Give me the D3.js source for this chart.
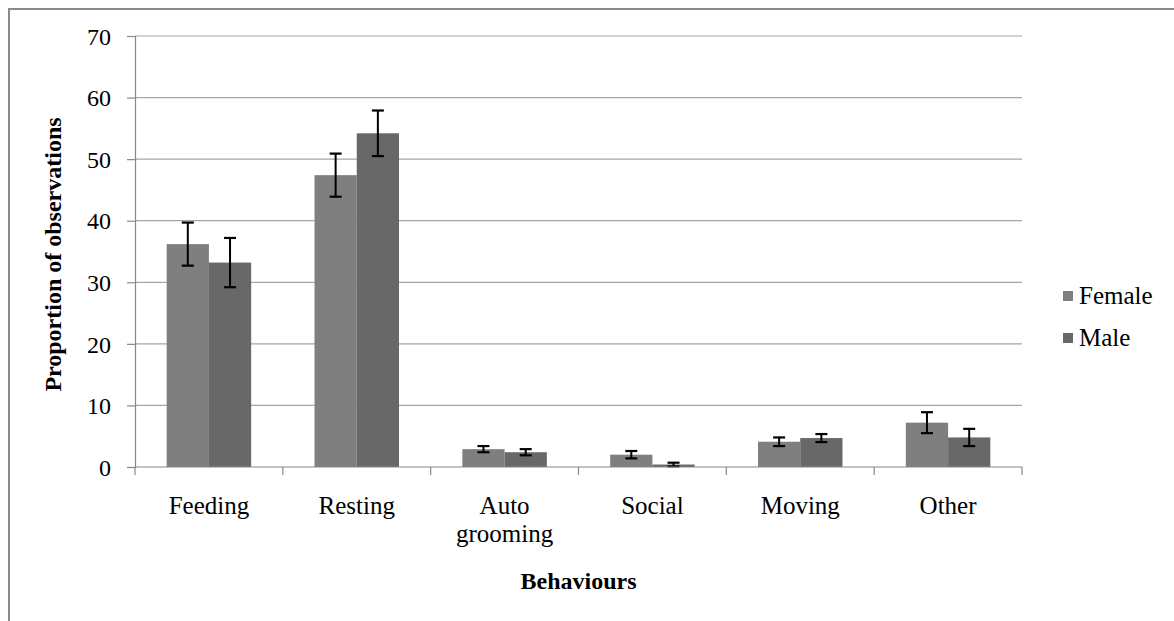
<!DOCTYPE html>
<html>
<head>
<meta charset="utf-8">
<script src="https://cdn.jsdelivr.net/npm/d3@7"></script>
<style>
  html, body { margin: 0; padding: 0; background: #fff; }
  svg { display: block; }
</style>
</head>
<body>
<svg id="chart" width="1174" height="621"></svg>
<script>
// Behaviour categories (second line of a label after "\n")
const categories = ["Feeding", "Resting", "Auto\ngrooming", "Social", "Moving", "Other"];
const seriesNames = ["Female", "Male"];
const femaleValues = [36.2, 47.4, 2.9, 2.0, 4.1, 7.2];
const maleValues   = [33.2, 54.2, 2.4, 0.4, 4.7, 4.8];
const femaleErrors = [3.5, 3.5, 0.5, 0.6, 0.7, 1.7];
const maleErrors   = [4.0, 3.7, 0.5, 0.3, 0.65, 1.4];
const yTicks = [0, 10, 20, 30, 40, 50, 60, 70];

const colors = { Female: "#7f7f7f", Male: "#686868" };
const FONT = "Liberation Serif";

const svg = d3.select("#chart");
const plot = { left: 135, right: 1022, top: 36, bottom: 467 };

// Outer chart frame
svg.append("rect")
  .attr("x", 9).attr("y", 9)
  .attr("width", 1200).attr("height", 700)
  .attr("fill", "none").attr("stroke", "#8a8a8a").attr("stroke-width", 2);

const x = d3.scaleBand().domain(categories).range([plot.left, plot.right]).paddingInner(0).paddingOuter(0);
const y = d3.scaleLinear().domain([0, 70]).range([plot.bottom, plot.top]);

// Bars take 4/7 of each band (gap of 150% of a bar width)
const groupWidth = x.bandwidth() * 2 / 3.5;
const xs = d3.scaleBand().domain(seriesNames).range([0, groupWidth]).padding(0);

// Horizontal gridlines
svg.append("g").selectAll("line")
  .data(yTicks.filter(t => t > 0))
  .join("line")
  .attr("x1", plot.left).attr("x2", plot.right)
  .attr("y1", d => y(d)).attr("y2", d => y(d))
  .attr("stroke", "#a6a6a6").attr("stroke-width", 1.2);

// Y axis
const yAxis = svg.append("g")
  .attr("transform", `translate(${plot.left},0)`)
  .call(d3.axisLeft(y).tickValues(yTicks).tickSize(8).tickPadding(16).tickFormat(d3.format("d")))
  .attr("font-family", FONT).attr("font-size", 24);
yAxis.select(".domain").attr("stroke", "#888").attr("stroke-width", 1.2);
yAxis.selectAll(".tick line").attr("stroke", "#888").attr("stroke-width", 1.2);
yAxis.selectAll(".tick text").attr("fill", "#000").attr("dy", "0.34em");

// Bars
const rows = categories.map((c, i) => ({
  cat: c,
  items: [
    { s: "Female", v: femaleValues[i], e: femaleErrors[i] },
    { s: "Male", v: maleValues[i], e: maleErrors[i] }
  ]
}));

const groups = svg.append("g").selectAll("g")
  .data(rows)
  .join("g")
  .attr("transform", d => `translate(${x(d.cat) + (x.bandwidth() - groupWidth) / 2},0)`);

groups.selectAll("rect")
  .data(d => d.items)
  .join("rect")
  .attr("x", d => xs(d.s))
  .attr("y", d => y(d.v))
  .attr("width", xs.bandwidth())
  .attr("height", d => y(0) - y(d.v))
  .attr("fill", d => colors[d.s]);

// Error bars
const eb = groups.selectAll("g.err")
  .data(d => d.items)
  .join("g").attr("class", "err")
  .attr("transform", d => `translate(${xs(d.s) + xs.bandwidth() / 2},0)`);
eb.append("line")
  .attr("x1", 0).attr("x2", 0)
  .attr("y1", d => y(d.v + d.e)).attr("y2", d => y(Math.max(0, d.v - d.e)))
  .attr("stroke", "#000").attr("stroke-width", 2);
eb.append("line")
  .attr("x1", -6).attr("x2", 6)
  .attr("y1", d => y(d.v + d.e)).attr("y2", d => y(d.v + d.e))
  .attr("stroke", "#000").attr("stroke-width", 2.2);
eb.append("line")
  .attr("x1", -6).attr("x2", 6)
  .attr("y1", d => y(Math.max(0, d.v - d.e))).attr("y2", d => y(Math.max(0, d.v - d.e)))
  .attr("stroke", "#000").attr("stroke-width", 2.2);

// X axis with ticks between categories
const xAxisG = svg.append("g");
xAxisG.append("line")
  .attr("x1", plot.left).attr("x2", plot.right)
  .attr("y1", plot.bottom).attr("y2", plot.bottom)
  .attr("stroke", "#888").attr("stroke-width", 1.2);
const boundaries = categories.map(c => x(c)).concat([plot.right]);
xAxisG.selectAll("line.tick")
  .data(boundaries)
  .join("line").attr("class", "tick")
  .attr("x1", d => d).attr("x2", d => d)
  .attr("y1", plot.bottom).attr("y2", plot.bottom + 8)
  .attr("stroke", "#888").attr("stroke-width", 1.2);

const labels = xAxisG.selectAll("text.cat")
  .data(categories)
  .join("text").attr("class", "cat")
  .attr("text-anchor", "middle")
  .attr("font-family", FONT).attr("font-size", 25).attr("fill", "#000")
  .attr("x", d => x(d) + x.bandwidth() / 2)
  .attr("y", 514);
labels.each(function(d) {
  const parts = d.split("\n");
  d3.select(this).selectAll("tspan")
    .data(parts)
    .join("tspan")
    .attr("x", x(d) + x.bandwidth() / 2)
    .attr("dy", (p, i) => i === 0 ? 0 : 28)
    .text(p => p);
});

// Axis titles
svg.append("text")
  .attr("x", (plot.left + plot.right) / 2)
  .attr("y", 589)
  .attr("text-anchor", "middle")
  .attr("font-family", FONT).attr("font-size", 24).attr("font-weight", "bold").attr("fill", "#000")
  .text("Behaviours");

svg.append("text")
  .attr("transform", `translate(61,${(plot.top + plot.bottom) / 2 + 3}) rotate(-90)`)
  .attr("text-anchor", "middle")
  .attr("font-family", FONT).attr("font-size", 24).attr("font-weight", "bold").attr("fill", "#000")
  .text("Proportion of observations");

// Legend
const legend = svg.append("g").attr("transform", "translate(1063,296)");
const li = legend.selectAll("g")
  .data(seriesNames)
  .join("g")
  .attr("transform", (d, i) => `translate(0,${i * 42})`);
li.append("rect")
  .attr("x", 0).attr("y", -5).attr("width", 10).attr("height", 10)
  .attr("fill", d => colors[d]);
li.append("text")
  .attr("x", 16).attr("y", 8)
  .attr("font-family", FONT).attr("font-size", 25).attr("fill", "#000")
  .text(d => d);
</script>
</body>
</html>
